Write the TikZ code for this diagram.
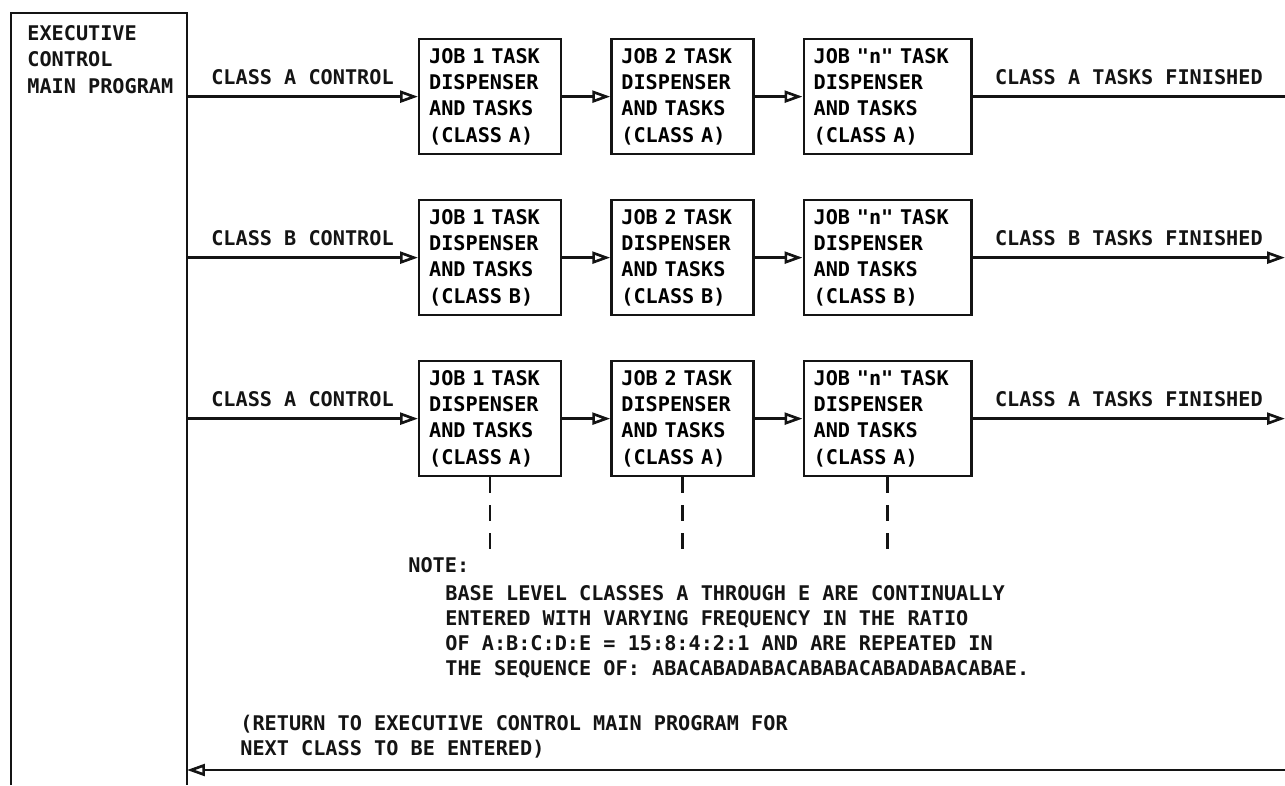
\documentclass[tikz,border=0pt]{standalone}
\usepackage{fontspec}
\usepackage{xcolor}
\usepackage{tikz}
\usetikzlibrary{arrows.meta, positioning}
\newfontfamily\plotfont{DejaVu Sans Mono}
\definecolor{inkblack}{RGB}{20,20,20}
\tikzset{
  taskbox/.style={rectangle, draw=inkblack, line width=1.3pt,
    inner xsep=0.2cm, inner ysep=0pt, text width=2.44cm,
    minimum height=2.3cm, align=left, anchor=north west,
    font=\plotfont\bfseries\fontsize{11.5}{15}\selectfont},
  widebox/.style={taskbox, text width=2.96cm},
  lbl/.style={inner sep=0pt, text=inkblack,
    font=\plotfont\bfseries\fontsize{11.5}{15}\selectfont},
  notetext/.style={lbl, align=left, anchor=north west,
    font=\plotfont\bfseries\fontsize{11.5}{14.2}\selectfont},
  arrow/.style={-{Triangle[open, length=0.36cm, width=0.24cm, line width=1.5pt]},
    line width=1.4pt, color=inkblack},
  line/.style={line width=1.4pt, color=inkblack},
  tick/.style={line width=1.4pt, color=inkblack,
    dash pattern=on 0.32cm off 0.24cm}
}
\begin{document}
\begin{tikzpicture}[x=0.02cm, y=-0.02cm]
  \useasboundingbox (0,0) rectangle (1285,785);

  % Executive control frame (open at the bottom)
  \draw[line] (11,785) -- (11,13) -- (187,13) -- (187,785);
  \node[lbl, align=left, anchor=north west] (exec) at (27,25)
    {EXECUTIVE\\CONTROL\\MAIN PROGRAM};
  \coordinate (xr) at (187,0);
  \coordinate (xe) at (1285,0);

  % Row 1
  \node[taskbox] (a11) at (418,38) {JOB 1 TASK\\DISPENSER\\AND TASKS\\(CLASS A)};
  \node[taskbox, right=0.96cm of a11] (a12) {JOB 2 TASK\\DISPENSER\\AND TASKS\\(CLASS A)};
  \node[widebox, right=0.96cm of a12] (a13) {JOB "n" TASK\\DISPENSER\\AND TASKS\\(CLASS A)};

  % Row 2
  \node[taskbox] (b11) at (418,199) {JOB 1 TASK\\DISPENSER\\AND TASKS\\(CLASS B)};
  \node[taskbox, right=0.96cm of b11] (b12) {JOB 2 TASK\\DISPENSER\\AND TASKS\\(CLASS B)};
  \node[widebox, right=0.96cm of b12] (b13) {JOB "n" TASK\\DISPENSER\\AND TASKS\\(CLASS B)};

  % Row 3
  \node[taskbox] (c11) at (418,360) {JOB 1 TASK\\DISPENSER\\AND TASKS\\(CLASS A)};
  \node[taskbox, right=0.96cm of c11] (c12) {JOB 2 TASK\\DISPENSER\\AND TASKS\\(CLASS A)};
  \node[widebox, right=0.96cm of c12] (c13) {JOB "n" TASK\\DISPENSER\\AND TASKS\\(CLASS A)};

  % Control lines in, finished lines out
  \draw[arrow] (a11.west -| xr) -- node[lbl, above=6pt] {CLASS A CONTROL} (a11.west);
  \draw[arrow] (a11) -- (a12);
  \draw[arrow] (a12) -- (a13);
  \draw[line] (a13.east) -- node[lbl, above=6pt] {CLASS A TASKS FINISHED} (a13.east -| xe);

  \draw[arrow] (b11.west -| xr) -- node[lbl, above=6pt] {CLASS B CONTROL} (b11.west);
  \draw[arrow] (b11) -- (b12);
  \draw[arrow] (b12) -- (b13);
  \draw[arrow] (b13.east) -- node[lbl, above=6pt] {CLASS B TASKS FINISHED} (b13.east -| xe);

  \draw[arrow] (c11.west -| xr) -- node[lbl, above=6pt] {CLASS A CONTROL} (c11.west);
  \draw[arrow] (c11) -- (c12);
  \draw[arrow] (c12) -- (c13);
  \draw[arrow] (c13.east) -- node[lbl, above=6pt] {CLASS A TASKS FINISHED} (c13.east -| xe);

  % Dashed leads down to the note
  \coordinate (noteline) at (0,553);
  \draw[tick] (c11.south) -- (c11.south |- noteline);
  \draw[tick] (c12.south) -- (c12.south |- noteline);
  \draw[tick] (c13.south) -- (c13.south |- noteline);

  % Note
  \node[lbl, anchor=north west] (notehead) at (408,557) {NOTE:};
  \node[notetext] (notebody) at (445,585)
    {BASE LEVEL CLASSES A THROUGH E ARE CONTINUALLY\\
     ENTERED WITH VARYING FREQUENCY IN THE RATIO\\
     OF A:B:C:D:E = 15:8:4:2:1 AND ARE REPEATED IN\\
     THE SEQUENCE OF: ABACABADABACABABACABADABACABAE.};

  % Return path
  \node[notetext] (ret) at (240,715)
    {(RETURN TO EXECUTIVE CONTROL MAIN PROGRAM FOR\\
     NEXT CLASS TO BE ENTERED)};
  \coordinate (rt) at (1285,770);
  \draw[arrow] (rt) -- (rt -| xr);
\end{tikzpicture}
\end{document}
